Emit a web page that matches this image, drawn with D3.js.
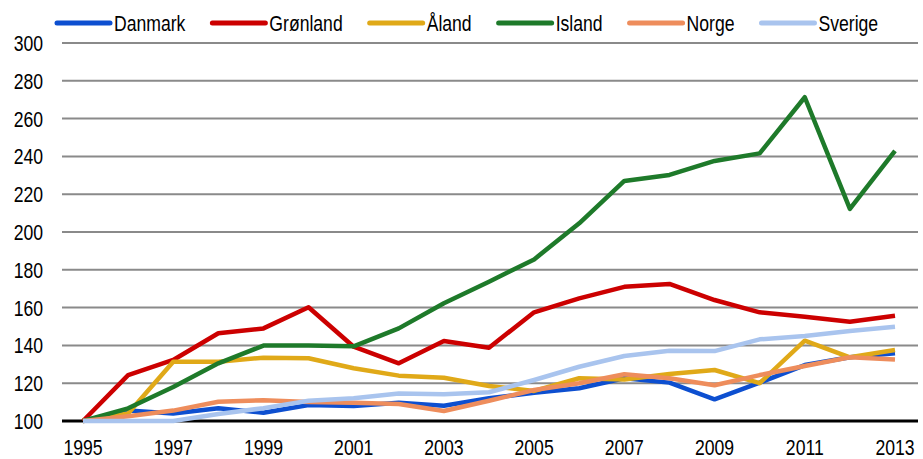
<!DOCTYPE html>
<html>
<head>
<meta charset="utf-8">
<script src="https://cdn.jsdelivr.net/npm/d3@7"></script>
<style>
  body { margin: 0; background: #fff; }
  svg text { font-family: "Liberation Sans", Arial, sans-serif; font-size: 22px; fill: #000; }
</style>
</head>
<body>
<svg id="chart" width="923" height="459"></svg>
<script>
const years = d3.range(1995, 2014);
const xTicks = [1995, 1997, 1999, 2001, 2003, 2005, 2007, 2009, 2011, 2013];
const yTicks = [100, 120, 140, 160, 180, 200, 220, 240, 260, 280, 300];

const danmark  = [100, 105.5, 104, 106.7, 104.4, 108.5, 107.9, 109.7, 108.1, 112, 115, 117.3, 122.6, 120.3, 111.5, 120.3, 129.6, 133.7, 135.8];
const gronland = [100, 124.3, 132.3, 146.4, 149, 160.2, 139.3, 130.5, 142.3, 138.8, 157.5, 164.9, 171, 172.5, 164, 157.5, 155.2, 152.5, 155.7];
const aland    = [100, 104, 131.4, 131.4, 133.5, 133.2, 127.9, 124, 122.9, 118.5, 115.9, 122.6, 122, 124.9, 127, 120, 142.5, 133.7, 137.6];
const island   = [100, 106.7, 118, 130.5, 139.9, 140, 139.5, 149, 162.3, 173.7, 185.5, 204.6, 227, 230.2, 237.6, 241.6, 271.3, 212.2, 242.9];
const norge    = [100, 102.5, 105.5, 110.2, 111, 110, 109.7, 109, 105.3, 110.7, 116.4, 120, 124.7, 122.6, 118.9, 124.3, 129.1, 133.7, 132.6];
const sverige  = [100, 100, 100, 103.7, 106.8, 110.7, 112, 114.6, 114.1, 115.2, 121.7, 128.7, 134.4, 137.2, 137, 143.2, 145, 147.6, 149.9];

const seriesNames = ["Danmark", "Grønland", "Åland", "Island", "Norge", "Sverige"];
const seriesValues = [danmark, gronland, aland, island, norge, sverige];
const seriesColors = ["#0d4fd0", "#cc0000", "#e0a918", "#1e7a2a", "#ee8d5c", "#a9c4ee"];

const narrow = 0.8; // condensed look, squeeze glyphs horizontally

const svg = d3.select("#chart");
const x = d3.scaleLinear().domain([1995, 2013]).range([83, 895]);
const y = d3.scaleLinear().domain([100, 300]).range([421, 43]);
const plotLeft = 62, plotRight = 918;

function label(parent, px, py, str, anchor, dy) {
  const t = parent.append("g")
      .attr("transform", `translate(${px},${py}) scale(${narrow},1)`)
    .append("text")
      .attr("text-anchor", anchor)
      .attr("dy", dy || 0)
      .text(str);
  return t;
}

// gridlines
svg.append("g").selectAll("line")
  .data(yTicks.filter(d => d !== 100))
  .join("line")
    .attr("x1", plotLeft).attr("x2", plotRight)
    .attr("y1", d => y(d)).attr("y2", d => y(d))
    .attr("stroke", "#8a8a8a").attr("stroke-width", 2);

// y labels
const yg = svg.append("g");
yTicks.forEach(d => label(yg, 43, y(d), d, "end", "0.36em"));

// x labels
const xg = svg.append("g");
xTicks.forEach(d => label(xg, x(d), 455, d, "middle"));

// baseline
svg.append("line")
  .attr("x1", plotLeft).attr("x2", plotRight)
  .attr("y1", y(100)).attr("y2", y(100))
  .attr("stroke", "#000").attr("stroke-width", 3);

const line = d3.line().x((d, i) => x(years[i])).y(d => y(d));

svg.append("g").selectAll("path")
  .data(seriesValues)
  .join("path")
    .attr("d", line)
    .attr("fill", "none")
    .attr("stroke", (d, i) => seriesColors[i])
    .attr("stroke-width", 4.5)
    .attr("stroke-linejoin", "round");

// legend, laid out left to right by text width
const legend = svg.append("g");
let lx = 57;
seriesNames.forEach((name, i) => {
  legend.append("line")
    .attr("x1", lx).attr("x2", lx + 53)
    .attr("y1", 23).attr("y2", 23)
    .attr("stroke", seriesColors[i]).attr("stroke-width", 5)
    .attr("stroke-linecap", "round");
  const t = label(legend, lx + 57, 23, name, "start", "0.36em");
  lx += 57 + t.node().getComputedTextLength() * narrow + 27;
});
</script>
</body>
</html>
